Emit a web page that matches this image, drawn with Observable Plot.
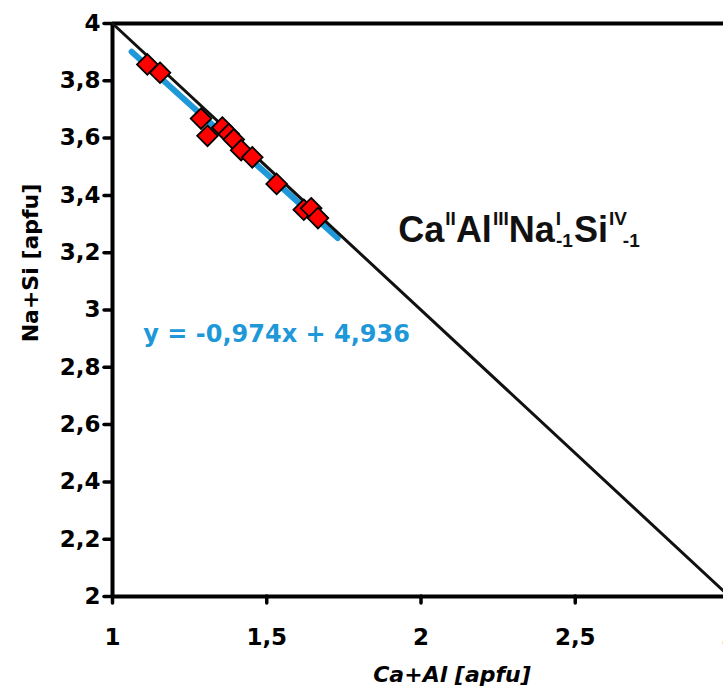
<!DOCTYPE html>
<html><head><meta charset="utf-8">
<script src="https://cdn.jsdelivr.net/npm/d3@7"></script>
<script src="https://cdn.jsdelivr.net/npm/@observablehq/plot@0.6"></script>
<style>
body{margin:0;background:#fff;}
#chart svg{background:#fff;}
</style>
</head><body><div id="chart"></div>
<script>
// measured points: Ca+Al vs Na+Si (apfu)
const caAl = [1.113, 1.154, 1.287, 1.308, 1.356, 1.377, 1.393, 1.417, 1.453, 1.532, 1.620, 1.644, 1.666];
const naSi = [3.857, 3.828, 3.668, 3.608, 3.637, 3.614, 3.595, 3.558, 3.533, 3.440, 3.350, 3.355, 3.321];
// exchange vector line (1,4)-(3,2)
const refX = [1, 3];
const refY = [4, 2];
// regression line y = -0.974x + 4.936 over the data range
const fitSlope = -0.974, fitIntercept = 4.936;
const fitX = [1.062, 1.73];
const xTicks = [1, 1.5, 2, 2.5, 3];
const yTicks = [2, 2.2, 2.4, 2.6, 2.8, 3, 3.2, 3.4, 3.6, 3.8, 4];
const eqLabel = "y = -0,974x + 4,936";
const eqPos = {x: 1.10, y: 2.915};
const formulaPos = {x: 1.928, y: 3.236};
const xTitle = "Ca+Al [apfu]";
const yTitle = "Na+Si [apfu]";

const points = caAl.map((x, i) => ({x, y: naSi[i]}));
const ref = refX.map((x, i) => ({x, y: refY[i]}));
const fit = fitX.map(x => ({x, y: fitSlope * x + fitIntercept}));
const comma = d => String(d).replace(".", ",");
const tickFont = "DejaVu Sans, sans-serif";
const blue = "#1e98d8";

const plot = Plot.plot({
  width: 723, height: 687,
  marginLeft: 112, marginRight: -6, marginTop: 23, marginBottom: 91,
  x: {domain: [1, 3]},
  y: {domain: [2, 4]},
  style: {fontFamily: tickFont, background: "#fff", color: "#000"},
  marks: [
    Plot.axisX(xTicks, {tickSize: 7, tickPadding: 25, strokeWidth: 3.5, strokeLinecap: "round",
      tickFormat: comma, fontSize: 23, fontWeight: "bold", fontFamily: tickFont, label: null}),
    Plot.axisY(yTicks, {tickSize: 8, tickPadding: 4, strokeWidth: 3.5, strokeLinecap: "round",
      tickFormat: comma, fontSize: 23, fontWeight: "bold", fontFamily: tickFont, label: null}),
    Plot.ruleY([2, 4], {stroke: "#000", strokeWidth: 4}),
    Plot.ruleX([1, 3], {stroke: "#000", strokeWidth: 4}),
    Plot.line(fit, {x: "x", y: "y", stroke: blue, strokeWidth: 6}),
    Plot.line(ref, {x: "x", y: "y", stroke: "#111", strokeWidth: 3}),
    Plot.dot(points, {x: "x", y: "y", symbol: "diamond2", r: 9.3, fill: "#ff0000", stroke: "#000", strokeWidth: 1.8}),
    Plot.text([eqLabel], {x: eqPos.x, y: eqPos.y, text: d => d, textAnchor: "start", lineAnchor: "middle",
      fill: blue, fontSize: 24, fontWeight: "bold", fontFamily: tickFont}),
    Plot.text([yTitle], {frameAnchor: "left", text: d => d, rotate: -90, dx: -82, dy: -47,
      textAnchor: "middle", lineAnchor: "middle", fontSize: 22, fontWeight: "bold", fontFamily: tickFont}),
    Plot.text([xTitle], {frameAnchor: "bottom", text: d => d, dx: 31, dy: 78,
      textAnchor: "middle", lineAnchor: "middle", fontSize: 22, fontWeight: "bold", fontStyle: "italic", fontFamily: tickFont})
  ]
});

// chemical exchange vector label with superscripts / subscripts
const sx = plot.scale("x"), sy = plot.scale("y");
const svg = d3.select(plot);
const t = svg.append("text")
  .attr("x", sx.apply(formulaPos.x)).attr("y", sy.apply(formulaPos.y))
  .attr("text-anchor", "start")
  .attr("font-family", "Liberation Sans, Arial, sans-serif")
  .attr("font-weight", "bold").attr("font-size", 36).attr("fill", "#111");
const parts = [
  ["Ca", 36, 0, 0], ["II", 19, -17, 1], ["Al", 36, 17, 0], ["III", 19, -17, 1],
  ["Na", 36, 17, 0], ["I", 19, -17, 1], ["-1", 19, 22, -5], ["Si", 36, -5, 1],
  ["IV", 19, -17, 1], ["-1", 19, 22, -3]
];
parts.forEach(([s, fs, dy, dx]) => {
  t.append("tspan").attr("font-size", fs).attr("dy", dy).attr("dx", dx).text(s);
});

document.getElementById("chart").appendChild(plot);
</script>
</body></html>
